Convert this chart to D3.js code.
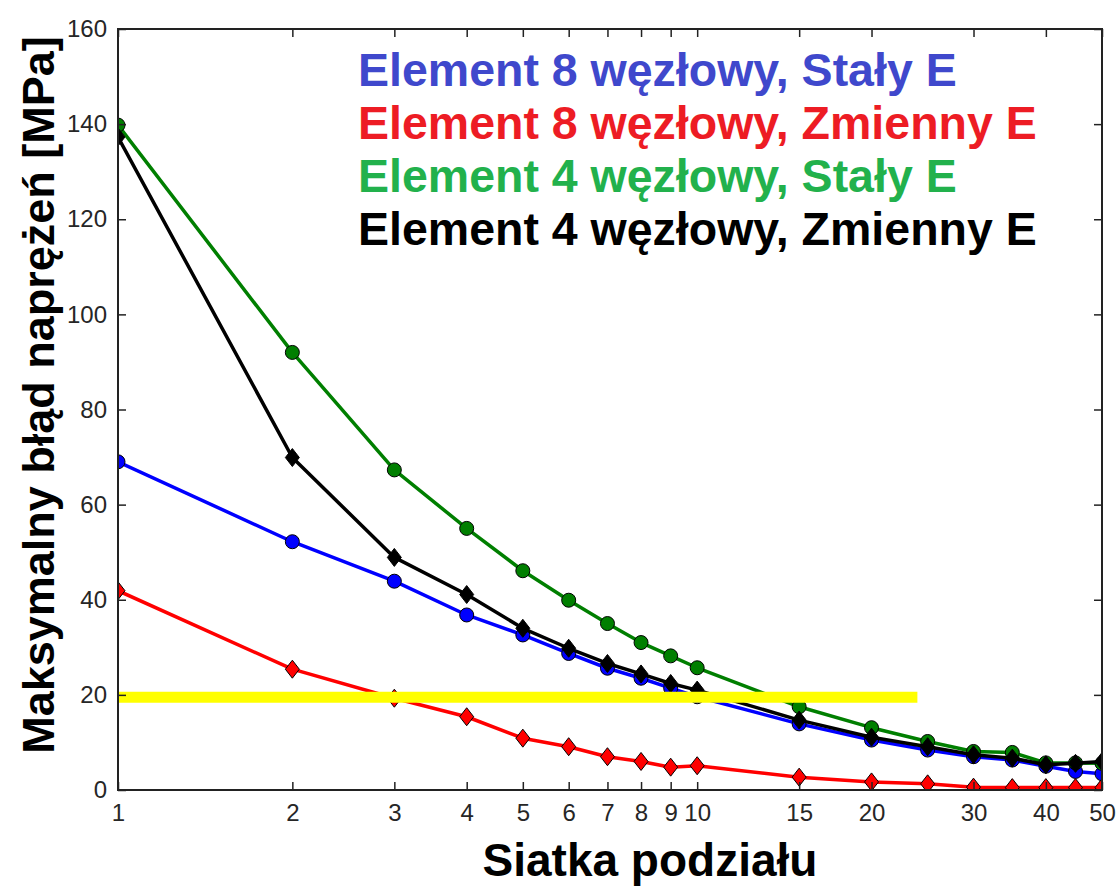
<!DOCTYPE html>
<html>
<head>
<meta charset="utf-8">
<script src="https://cdn.jsdelivr.net/npm/d3@7/dist/d3.min.js"></script>
<style>
  html, body { margin: 0; padding: 0; background: #fff; }
  svg { display: block; font-family: "Liberation Sans", Arial, sans-serif; }
</style>
</head>
<body>
<svg id="chart" width="1118" height="886"></svg>
<script>
// Mesh divisions (x) and maximum stress error [MPa] (y) for each element type
const meshDivisions = [1, 2, 3, 4, 5, 6, 7, 8, 9, 10, 15, 20, 25, 30, 35, 40, 45, 50];

const el8Constant = [69.0, 52.2, 43.9, 36.8, 32.6, 28.7, 25.6, 23.5, 21.4, 19.6, 13.9, 10.5, 8.4, 7.0, 6.3, 5.0, 3.9, 3.4];
const el8Variable = [41.9, 25.4, 19.3, 15.4, 10.9, 9.1, 7.0, 6.0, 4.8, 5.1, 2.7, 1.7, 1.3, 0.6, 0.5, 0.5, 0.5, 0.5];
const el4Constant = [139.8, 92.0, 67.3, 55.0, 46.1, 39.9, 35.0, 31.0, 28.2, 25.7, 17.5, 13.1, 10.2, 8.1, 7.9, 5.7, 5.7, 5.6];
const el4Variable = [137.3, 69.9, 48.9, 41.1, 34.0, 29.8, 26.6, 24.4, 22.4, 21.0, 14.7, 11.1, 9.1, 7.4, 6.7, 5.3, 5.6, 6.0];

// Admissible error threshold line
const thresholdX = [1, 24];
const thresholdY = [19.5, 19.5];

const xTicks = [1, 2, 3, 4, 5, 6, 7, 8, 9, 10, 15, 20, 30, 40, 50];
const yTicks = [0, 20, 40, 60, 80, 100, 120, 140, 160];

const legendLabels = [
  "Element 8 węzłowy, Stały E",
  "Element 8 węzłowy, Zmienny E",
  "Element 4 węzłowy, Stały E",
  "Element 4 węzłowy, Zmienny E"
];

const series = [
  { values: el8Constant, line: "#0000ff", fill: "#0000ff", marker: "circle", text: "#3f48cc" },
  { values: el8Variable, line: "#ff0000", fill: "#ff0000", marker: "diamond", text: "#ed1c24" },
  { values: el4Constant, line: "#007f00", fill: "#007f00", marker: "circle", text: "#22b14c" },
  { values: el4Variable, line: "#000000", fill: "#000000", marker: "diamond", text: "#000000" }
];

const svg = d3.select("#chart");
const plot = { left: 118, right: 1102, top: 29, bottom: 790 };

const x = d3.scaleLog().domain([1, 50]).range([plot.left, plot.right]);
const y = d3.scaleLinear().domain([0, 160]).range([plot.bottom, plot.top]);

svg.append("defs").append("clipPath").attr("id", "plotClip")
  .append("rect")
  .attr("x", plot.left).attr("y", plot.top)
  .attr("width", plot.right - plot.left).attr("height", plot.bottom - plot.top);

const data = svg.append("g").attr("clip-path", "url(#plotClip)");

const line = d3.line().x(d => x(d[0])).y(d => y(d[1]));

const diamond = (hw, hh) => `M0,${-hh}L${hw},0L0,${hh}L${-hw},0Z`;

series.forEach(s => {
  const pts = meshDivisions.map((m, i) => [m, s.values[i]]);
  data.append("path")
    .datum(pts)
    .attr("d", line)
    .attr("fill", "none")
    .attr("stroke", s.line)
    .attr("stroke-width", 3.5)
    .attr("stroke-linejoin", "round");

  const g = data.append("g");
  if (s.marker === "circle") {
    g.selectAll("circle").data(pts).join("circle")
      .attr("cx", d => x(d[0])).attr("cy", d => y(d[1]))
      .attr("r", 7)
      .attr("fill", s.fill)
      .attr("stroke", "#000").attr("stroke-width", 1);
  } else {
    g.selectAll("path").data(pts).join("path")
      .attr("transform", d => `translate(${x(d[0])},${y(d[1])})`)
      .attr("d", diamond(7, 9))
      .attr("fill", s.fill)
      .attr("stroke", "#000").attr("stroke-width", 1);
  }
});

// Threshold line drawn on top of the series
data.append("path")
  .datum(thresholdX.map((v, i) => [v, thresholdY[i]]))
  .attr("d", line)
  .attr("stroke", "#ffff00")
  .attr("stroke-width", 11)
  .attr("fill", "none");

// Axes with inward ticks on all four sides
const axisColor = "#222";
const tickLen = 8;

const bottomAxis = d3.axisBottom(x).tickValues(xTicks).tickFormat(d3.format("d"))
  .tickSizeInner(-tickLen).tickSizeOuter(0).tickPadding(14);
const topAxis = d3.axisTop(x).tickValues(xTicks).tickFormat("")
  .tickSizeInner(-tickLen).tickSizeOuter(0);
const leftAxis = d3.axisLeft(y).tickValues(yTicks).tickFormat(d3.format("d"))
  .tickSizeInner(-tickLen).tickSizeOuter(0).tickPadding(11);
const rightAxis = d3.axisRight(y).tickValues(yTicks).tickFormat("")
  .tickSizeInner(-tickLen).tickSizeOuter(0);

function styleAxis(g) {
  g.select(".domain").remove();
  g.selectAll(".tick line").attr("stroke", axisColor).attr("stroke-width", 1.5);
  g.selectAll(".tick text").attr("fill", "#262626").style("font-size", "24px")
    .style("font-family", "'Liberation Sans', Arial, sans-serif");
}

svg.append("g").attr("transform", `translate(0,${plot.bottom})`).call(bottomAxis).call(styleAxis);
svg.append("g").attr("transform", `translate(0,${plot.top})`).call(topAxis).call(styleAxis);
svg.append("g").attr("transform", `translate(${plot.left},0)`).call(leftAxis).call(styleAxis);
svg.append("g").attr("transform", `translate(${plot.right},0)`).call(rightAxis).call(styleAxis);

// Frame
svg.append("rect")
  .attr("x", plot.left).attr("y", plot.top)
  .attr("width", plot.right - plot.left).attr("height", plot.bottom - plot.top)
  .attr("fill", "none").attr("stroke", axisColor).attr("stroke-width", 2);

// Axis titles
svg.append("text")
  .attr("x", 650).attr("y", 876)
  .attr("text-anchor", "middle")
  .style("font-size", "46px").style("font-weight", "bold")
  .attr("fill", "#000")
  .text("Siatka podziału");

svg.append("text")
  .attr("transform", "translate(54,395) rotate(-90)")
  .attr("text-anchor", "middle")
  .style("font-size", "45px").style("font-weight", "bold")
  .attr("fill", "#000")
  .text("Maksymalny błąd naprężeń [MPa]");

// Legend as coloured text
const legend = svg.append("g");
legendLabels.forEach((label, i) => {
  legend.append("text")
    .attr("x", 358).attr("y", 86 + i * 53)
    .style("font-size", "46.5px").style("font-weight", "bold")
    .attr("fill", series[i].text)
    .text(label);
});
</script>
</body>
</html>
